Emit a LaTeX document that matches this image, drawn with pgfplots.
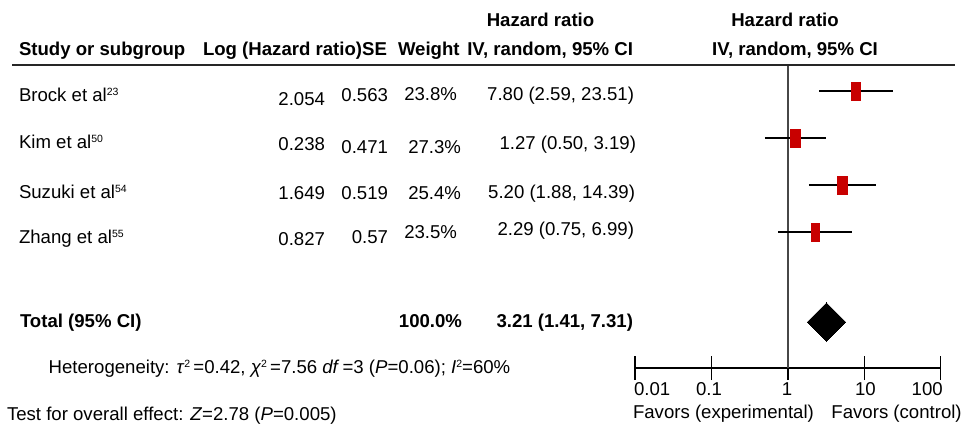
\documentclass[border=0pt]{standalone}
\usepackage{pgfplots}
\pgfplotsset{compat=1.18}
\usepackage{fontspec}
\setmainfont{Liberation Sans}
\definecolor{hrred}{RGB}{200,0,0}
\newcommand\sups[1]{\raisebox{5.7bp}{\fontsize{10.5bp}{12bp}\selectfont #1}}
\begin{document}
\begin{tikzpicture}[x=1bp,y=-1bp, every node/.style={inner sep=0pt, outer sep=0pt, font=\fontsize{18.6bp}{22bp}\selectfont}]
\useasboundingbox (0,0) rectangle (965,432);
\begin{axis}[at={(635bp,-368bp)}, anchor=south west, scale only axis,
  width=305.7bp, height=368bp, xmode=log, xmin=0.01, xmax=100, ymin=0, ymax=368,
  axis x line*=bottom, axis y line=none,
  xtick={0.01,0.1,1,10,100}, xticklabels={}, xminorticks=false,
  tick align=center, major tick length=24bp,
  major tick style={black, line width=1.3bp},
  axis line style={black, line width=1.3bp}, clip=false]
% line of no effect
\addplot[black!72, line width=1.8bp] coordinates {(1,0) (1,303)};
% confidence intervals
\addplot[black, line width=1.4bp] coordinates {(2.59,277) (23.51,277)};
\addplot[black, line width=1.4bp] coordinates {(0.50,230) (3.19,230)};
\addplot[black, line width=1.4bp] coordinates {(1.88,183) (14.39,183)};
\addplot[black, line width=1.4bp] coordinates {(0.75,136) (6.99,136)};
% study estimates
\addplot[only marks, mark=square*, color=hrred, mark size=9bp, mark options={xscale=0.52, line width=0pt}] coordinates {(7.80,277)};
\addplot[only marks, mark=square*, color=hrred, mark size=9bp, mark options={xscale=0.56, line width=0pt}] coordinates {(1.27,230)};
\addplot[only marks, mark=square*, color=hrred, mark size=9bp, mark options={xscale=0.53, line width=0pt}] coordinates {(5.20,183)};
\addplot[only marks, mark=square*, color=hrred, mark size=9bp, mark options={xscale=0.47, line width=0pt}] coordinates {(2.29,136)};
% pooled estimate
\addplot[only marks, mark=square*, black, mark size=13.5bp, mark options={rotate=45, line width=0pt}] coordinates {(3.21,46)};
\end{axis}
% header
\node[anchor=base] at (540.5,26) {\bfseries Hazard ratio};
\node[anchor=base] at (785,26) {\bfseries Hazard ratio};
\node[anchor=base west] at (19,55) {\bfseries Study or subgroup};
\node[anchor=base west] at (203,55) {\bfseries Log (Hazard ratio)SE};
\node[anchor=base west] at (398,55) {\bfseries Weight};
\node[anchor=base east] at (633,55) {\bfseries IV, random, 95\% CI};
\node[anchor=base] at (795,55) {\bfseries IV, random, 95\% CI};
\draw[line width=1.5bp, black!85] (12,65) -- (955,65);
% rows
\node[anchor=base west] at (19,101) {Brock et al\sups{23}};
\node[anchor=base west] at (19,148) {Kim et al\sups{50}};
\node[anchor=base west] at (19,198) {Suzuki et al\sups{54}};
\node[anchor=base west] at (19,243) {Zhang et al\sups{55}};
\node[anchor=base east] at (325,105) {2.054};
\node[anchor=base east] at (325,150) {0.238};
\node[anchor=base east] at (325,199) {1.649};
\node[anchor=base east] at (325,245.5) {0.827};
\node[anchor=base east] at (388,101.5) {0.563};
\node[anchor=base east] at (388,153) {0.471};
\node[anchor=base east] at (388,199) {0.519};
\node[anchor=base east] at (388,243) {0.57};
\node[anchor=base east] at (457,100.5) {23.8\%};
\node[anchor=base east] at (461,153) {27.3\%};
\node[anchor=base east] at (461,199) {25.4\%};
\node[anchor=base east] at (457,238) {23.5\%};
\node[anchor=base east] at (634,100) {7.80 (2.59, 23.51)};
\node[anchor=base east] at (636,149.5) {1.27 (0.50, 3.19)};
\node[anchor=base east] at (635,198) {5.20 (1.88, 14.39)};
\node[anchor=base east] at (634,235.5) {2.29 (0.75, 6.99)};
% total
\node[anchor=base west] at (20,327) {\bfseries Total (95\% CI)};
\node[anchor=base east] at (462,327) {\bfseries 100.0\%};
\node[anchor=base east] at (633,327) {\bfseries 3.21 (1.41, 7.31)};
% footer
\node[anchor=base west] at (48.7,373) {Heterogeneity: \textit{τ}\sups{2}\,=0.42, \textit{χ}\sups{2}\,=7.56 \textit{df}\,=3 (\textit{P}=0.06); \textit{I}\sups{2}=60\%};
\node[anchor=base west] at (7,420) {Test for overall effect: \textit{Z}=2.78 (\textit{P}=0.005)};
% axis tick labels
\node[anchor=base west] at (634,395) {0.01};
\node[anchor=base west] at (696,395) {0.1};
\node[anchor=base] at (787,395) {1};
\node[anchor=base west] at (855,395) {10};
\node[anchor=base west] at (911.7,395) {100};
\node[anchor=base west] at (633,418) {Favors (experimental)};
\node[anchor=base east] at (961.7,418) {Favors (control)};
\end{tikzpicture}
\end{document}
